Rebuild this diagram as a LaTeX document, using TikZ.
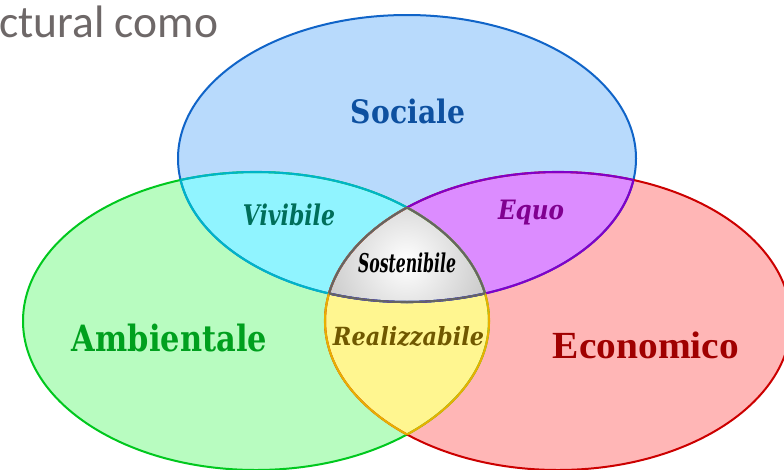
\documentclass[tikz,border=0pt]{standalone}
\usepackage{fontspec}
\usepackage{graphicx}
\setmainfont{DejaVu Serif}
\newfontfamily\carl{Carlito}
\newfontfamily\libser{Liberation Serif}
\definecolor{bfill}{RGB}{184,218,252}
\definecolor{gfill}{RGB}{184,252,192}
\definecolor{rfill}{RGB}{255,182,182}
\definecolor{cfill}{RGB}{144,244,255}
\definecolor{pfill}{RGB}{220,140,255}
\definecolor{yfill}{RGB}{255,246,144}
\definecolor{sedge}{RGB}{160,160,160}
\definecolor{bline}{RGB}{16,100,200}
\definecolor{gline}{RGB}{0,200,30}
\definecolor{rline}{RGB}{204,0,0}
\definecolor{cline}{RGB}{0,180,200}
\definecolor{pline}{RGB}{130,0,200}
\definecolor{yline}{RGB}{232,176,0}
\definecolor{sline}{RGB}{100,100,100}
\definecolor{tsoc}{RGB}{13,80,160}
\definecolor{tamb}{RGB}{0,160,30}
\definecolor{teco}{RGB}{160,0,0}
\definecolor{tviv}{RGB}{0,110,90}
\definecolor{tequ}{RGB}{128,0,144}
\definecolor{trea}{RGB}{112,88,0}
\definecolor{ttit}{RGB}{110,104,104}
\def\blueE{(407,158.5) ellipse [x radius=229, y radius=143.5]}
\def\greenE{(256,321) ellipse [x radius=233, y radius=149]}
\def\redE{(558,321) ellipse [x radius=233, y radius=149]}
\tikzset{
  outer/.style={line width=2pt},
  inner/.style={line width=2.1pt},
  lab/.style={inner sep=0pt, anchor=center}
}
\begin{document}
\begin{tikzpicture}[x=1pt,y=-1pt]
\fill[white] (0,0) rectangle (784,469);
\useasboundingbox (0,0) rectangle (784,469);
% base fills
\fill[bfill] \blueE;
\fill[gfill] \greenE;
\fill[rfill] \redE;
% overlaps
\begin{scope}\clip \blueE; \fill[cfill] \greenE; \end{scope}
\begin{scope}\clip \blueE; \fill[pfill] \redE; \end{scope}
\begin{scope}\clip \greenE; \fill[yfill] \redE; \end{scope}
\begin{scope}\clip \blueE; \clip \greenE; \clip \redE;
  \shade[inner color=white, outer color=sedge] (406,262) circle (150);
\end{scope}
% outer borders
\draw[outer, bline] \blueE;
\draw[outer, gline] \greenE;
\draw[outer, rline] \redE;
% overlap borders
\begin{scope}\clip \blueE; \draw[inner, cline] \greenE; \end{scope}
\begin{scope}\clip \greenE; \draw[inner, cline] \blueE; \end{scope}
\begin{scope}\clip \blueE; \draw[inner, pline] \redE; \end{scope}
\begin{scope}\clip \redE; \draw[inner, pline] \blueE; \end{scope}
\begin{scope}\clip \redE; \draw[inner, yline] \greenE; \end{scope}
\begin{scope}\clip \greenE; \draw[inner, yline] \redE; \end{scope}
\begin{scope}\clip \blueE; \clip \greenE; \draw[inner, sline] \redE; \end{scope}
\begin{scope}\clip \blueE; \clip \redE; \draw[inner, sline] \greenE; \end{scope}
\begin{scope}\clip \greenE; \clip \redE; \draw[inner, sline] \blueE; \end{scope}
% labels
\node[lab, text=tsoc] (soc) at (408,111) {\resizebox*{114pt}{25pt}{\bfseries Sociale}};
\node[lab, text=tamb] (amb) at (169.5,338) {\resizebox*{195pt}{28pt}{\bfseries Ambientale}};
\node[lab, text=teco] (eco) at (646,345) {\resizebox*{186pt}{27pt}{\libser\bfseries Economico}};
\node[lab, text=tviv] (viv) at (289,215) {\resizebox*{92pt}{22pt}{\bfseries\itshape Vivibile}};
\node[lab, text=tequ] (equ) at (531,212.5) {\resizebox*{66pt}{25pt}{\bfseries\itshape Equo}};
\node[lab, text=black] (sos) at (407,263) {\resizebox*{98pt}{20pt}{\bfseries\itshape Sostenibile}};
\node[lab, text=trea] (rea) at (408.5,336.5) {\resizebox*{151pt}{20pt}{\bfseries\itshape Realizzabile}};
\node[inner sep=0pt, anchor=base west, text=ttit, font=\carl\fontsize{45.5}{45.5}\selectfont] (tit) at (-1,37) {ctural como};
\end{tikzpicture}
\end{document}
